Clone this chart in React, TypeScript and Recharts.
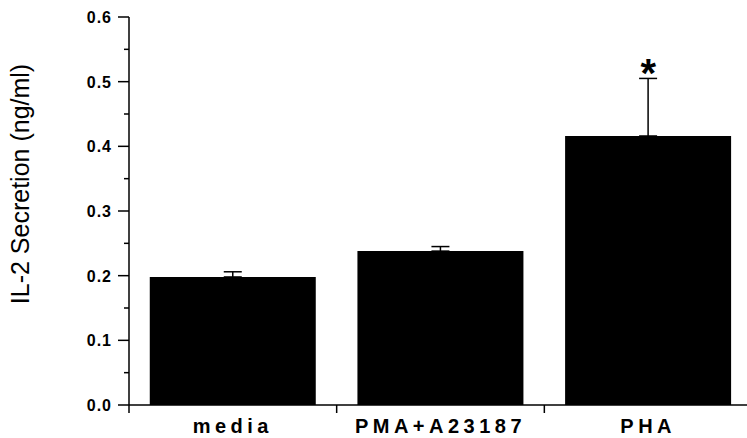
import React from 'react';
import { ComposedChart, Bar, XAxis, YAxis, ErrorBar, Scatter, Label } from 'recharts';

// values
const groups = ['media', 'PMA+A23187', 'PHA'];
const secretion = [0.198, 0.238, 0.416];
const errUp = [0.008, 0.007, 0.089];
const marks = ['', '', '*'];
const yTicks = [0, 0.05, 0.1, 0.15, 0.2, 0.25, 0.3, 0.35, 0.4, 0.45, 0.5, 0.55, 0.6];
const yMajor = [0, 0.1, 0.2, 0.3, 0.4, 0.5, 0.6];

const FONT = '"Liberation Sans", Arial, sans-serif';

const chartData = groups.map((g, i) => ({
  name: g,
  value: secretion[i],
  err: [0, errUp[i]],
  top: secretion[i] + errUp[i],
  mark: marks[i],
}));

function YTick(props: any) {
  const { x, y, payload } = props;
  const major = yMajor.some((m) => Math.abs(m - payload.value) < 1e-6);
  return (
    <g>
      <line x1={x - (major ? 11 : 5)} x2={x} y1={y} y2={y} stroke="#000" strokeWidth={1.5} />
      {major && (
        <text
          x={x - 17}
          y={y}
          dy={6}
          textAnchor="end"
          fontFamily={FONT}
          fontWeight="bold"
          fontSize={16}
          letterSpacing={1}
          fill="#000"
        >
          {payload.value.toFixed(1)}
        </text>
      )}
    </g>
  );
}

function XTick(props: any) {
  const { x, y, payload, index } = props;
  const half = payload.offset ?? 0;
  return (
    <g>
      <line x1={x - half} x2={x - half} y1={y} y2={y + 8} stroke="#000" strokeWidth={1.5} />
      {index === groups.length - 1 && (
        <line x1={x + half} x2={x + half} y1={y} y2={y + 8} stroke="#000" strokeWidth={1.5} />
      )}
      <text
        x={x}
        y={y + 28}
        textAnchor="middle"
        fontFamily={FONT}
        fontWeight="bold"
        fontSize={20}
        letterSpacing={4.5}
        fill="#000"
      >
        {payload.value}
      </text>
    </g>
  );
}

function Star(props: any) {
  const { cx, cy, payload } = props;
  if (!payload.mark) return <g />;
  return (
    <text x={cx} y={cy + 9} textAnchor="middle" fontFamily={FONT} fontWeight="bold" fontSize={40} fill="#000">
      {payload.mark}
    </text>
  );
}

export default function App() {
  return (
    <div style={{ position: 'absolute', left: 0, top: 0, width: 747, height: 438, overflow: 'hidden', background: '#fff' }}>
      <ComposedChart
        width={752}
        height={438}
        data={chartData}
        margin={{ top: 17, right: 0, bottom: 0, left: 0 }}
        barCategoryGap="10%"
      >
        <XAxis
          dataKey="name"
          type="category"
          axisLine={{ stroke: '#000', strokeWidth: 1.5 }}
          tickLine={false}
          tickSize={0}
          tickMargin={0}
          height={33}
          tick={<XTick />}
          interval={0}
        />
        <YAxis
          type="number"
          domain={[0, 0.6]}
          ticks={yTicks}
          interval={0}
          width={129}
          axisLine={{ stroke: '#000', strokeWidth: 1.5 }}
          tickLine={false}
          tickSize={0}
          tickMargin={0}
          tick={<YTick />}
        >
          <Label
            content={(p: any) => {
              const vb = p.viewBox;
              const cy = vb.y + vb.height / 2 - 27;
              return (
                <text
                  x={29}
                  y={cy}
                  transform={`rotate(-90 29 ${cy})`}
                  textAnchor="middle"
                  fontFamily={FONT}
                  fontSize={25}
                  fill="#000"
                >
                  IL-2 Secretion (ng/ml)
                </text>
              );
            }}
          />
        </YAxis>
        <Bar dataKey="value" fill="#000" isAnimationActive={false}>
          <ErrorBar dataKey="err" width={9} stroke="#000" strokeWidth={1.5} isAnimationActive={false} />
        </Bar>
        <Scatter dataKey="top" shape={<Star />} isAnimationActive={false} />
      </ComposedChart>
    </div>
  );
}
